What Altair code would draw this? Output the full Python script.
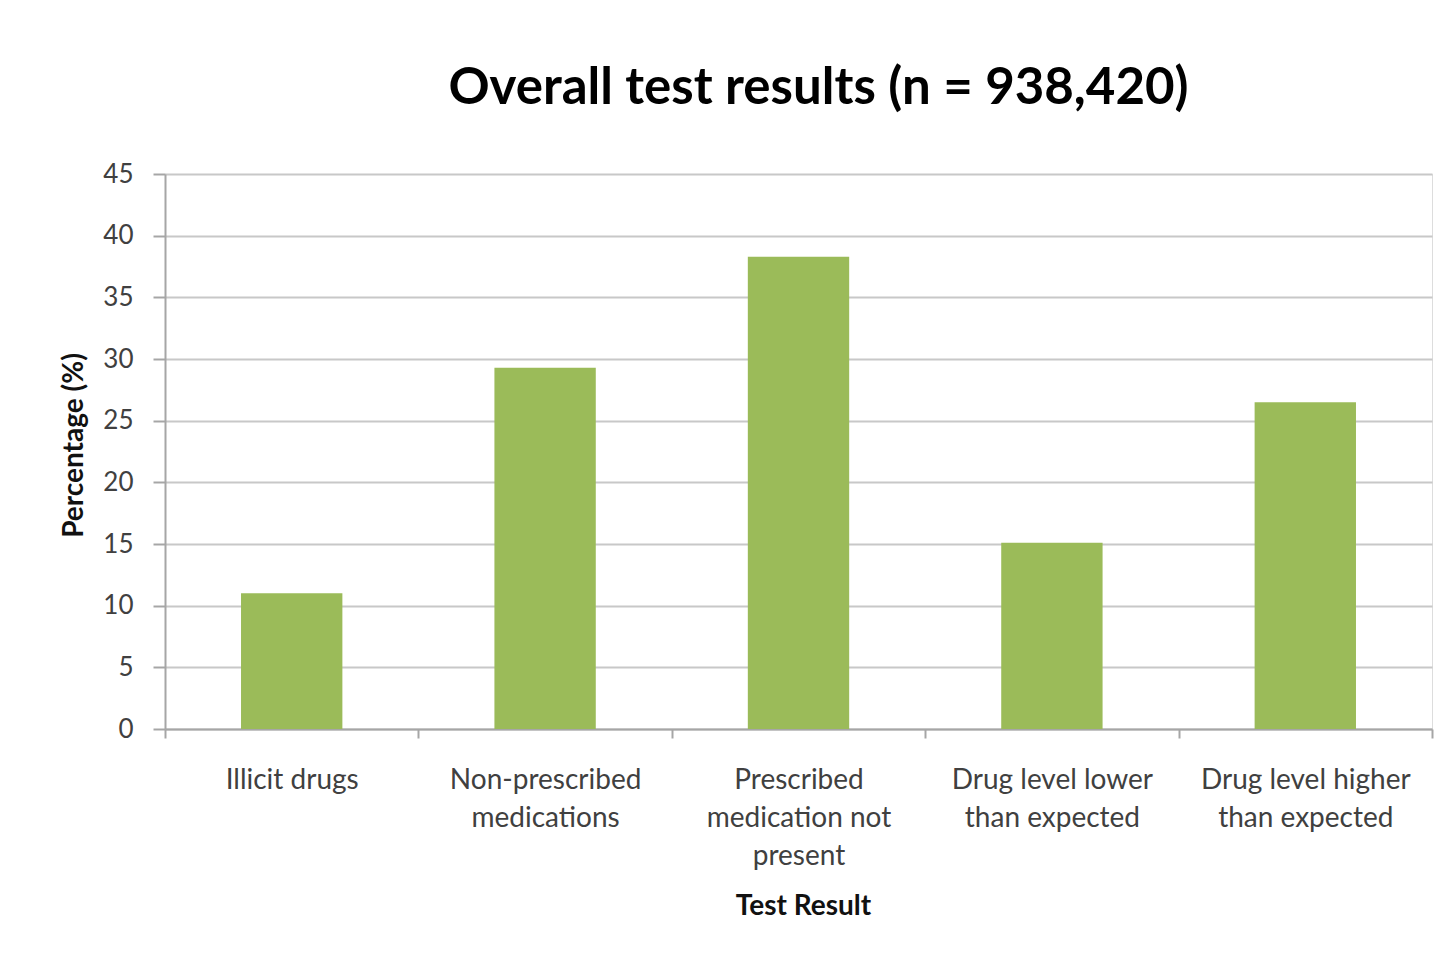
import altair as alt
import pandas as pd

categories = [
    "Illicit drugs",
    "Non-prescribed|medications",
    "Prescribed|medication not|present",
    "Drug level lower|than expected",
    "Drug level higher|than expected",
]
percentages = [11.0, 29.3, 38.3, 15.1, 26.5]
y_ticks = [0, 5, 10, 15, 20, 25, 30, 35, 40, 45]

df = pd.DataFrame({"category": categories, "pct": percentages})

FONT = "Lato"

bars = alt.Chart(df).mark_bar(color="#9BBB59", width=alt.RelativeBandSize(0.4)).encode(
    x=alt.X(
        "category:N",
        sort=categories,
        scale=alt.Scale(paddingInner=0, paddingOuter=0),
        axis=alt.Axis(
            title="Test Result",
            titleFont=FONT,
            titleFontSize=28,
            titleFontWeight="bold",
            titleColor="#111111",
            titleBaseline="middle",
            titleX=638,
            titleY=177,
            labelExpr="split(datum.label, '|')",
            labelFont=FONT,
            labelFontSize=28,
            labelColor="#404040",
            labelLineHeight=38,
            labelLimit=400,
            labelAngle=0,
            labelPadding=28,
            labelBaseline="top",
            tickBand="extent",
            tickSize=9,
            tickColor="#a6a6a6",
            tickWidth=2,
            domainColor="#a6a6a6",
            domainWidth=2,
            grid=False,
        ),
    ),
    y=alt.Y(
        "pct:Q",
        scale=alt.Scale(domain=[0, 45], nice=False),
        axis=alt.Axis(
            title="Percentage (%)",
            titleFont=FONT,
            titleFontSize=28,
            titleFontWeight="bold",
            titleColor="#111111",
            titleAngle=-90,
            titleBaseline="bottom",
            titleAlign="center",
            titleX=-77,
            titleY=271,
            values=y_ticks,
            labelFont=FONT,
            labelFontSize=26,
            labelColor="#404040",
            labelPadding=20,
            tickSize=12,
            tickColor="#a6a6a6",
            tickWidth=2,
            domainColor="#a6a6a6",
            domainWidth=2,
            gridColor="#c8c8c8",
            gridWidth=2,
        ),
    ),
)

chart = bars.properties(
    width=1267,
    height=555,
    title=alt.TitleParams(
        "Overall test results (n = 938,420)",
        font=FONT,
        fontSize=51,
        fontWeight="bold",
        color="#000000",
        anchor="middle",
        dx=20,
        offset=46,
    ),
    autosize=alt.AutoSizeParams(type="none"),
    padding={"left": 157, "top": 166, "right": 14, "bottom": 200},
).configure_view(stroke=None).configure(background="white")

chart.save("out.html", embed_options={"renderer": "svg", "actions": False})
